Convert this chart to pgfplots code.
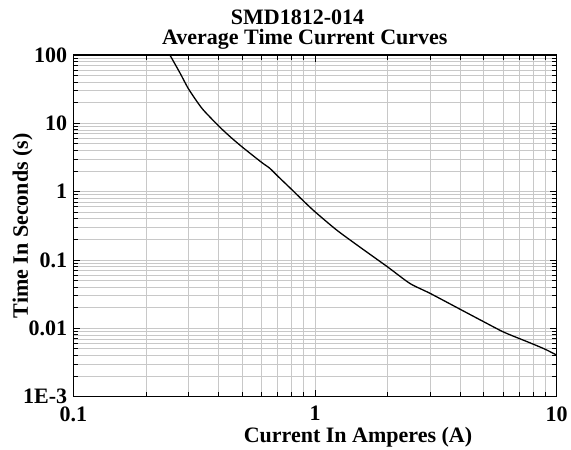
\documentclass[border=0pt]{standalone}
\usepackage{pgfplots}
\pgfplotsset{compat=1.18}
\usepackage{fontspec}
\setmainfont{Liberation Serif}
\definecolor{gridgray}{RGB}{200,200,200}
\begin{document}
\begin{tikzpicture}
\begin{axis}[
  at={(0,0)}, anchor=south west,
  scale only axis,
  width=483.4bp, height=341.7bp,
  xmode=log, ymode=log,
  xmin=0.1, xmax=10, ymin=0.001, ymax=100,
  xtick={0.1,1,10}, xticklabels={0.1,1,10},
  ytick={0.001,0.01,0.1,1,10,100},
  yticklabels={1E-3,0.01,0.1,1,10,100},
  minor xtick={0.2,0.3,0.4,0.5,0.6,0.7,0.8,0.9,2,3,4,5,6,7,8,9},
  minor ytick={0.002,0.003,0.004,0.005,0.006,0.007,0.008,0.009,
               0.02,0.03,0.04,0.05,0.06,0.07,0.08,0.09,
               0.2,0.3,0.4,0.5,0.6,0.7,0.8,0.9,
               2,3,4,5,6,7,8,9,20,30,40,50,60,70,80,90},
  grid=both,
  major grid style={gridgray, line width=0.9bp},
  minor grid style={gridgray, line width=0.9bp},
  axis line style={black, line width=1.5bp},
  tick style={black, line width=1bp},
  major tick length=7bp, minor tick length=5bp,
  tick align=inside,
  xtick pos=both, ytick pos=both,
  /pgf/number format/assume math mode=true,
  tick label style={font=\fontsize{22bp}{26bp}\selectfont\bfseries, inner sep=0pt},
  xticklabel style={anchor=north, yshift=-9.5bp},
  yticklabel style={anchor=east, xshift=-6bp},
  xlabel={Current In Amperes (A)},
  ylabel={Time In Seconds (s)},
  label style={font=\fontsize{22bp}{26bp}\selectfont\bfseries, inner sep=0pt},
  xlabel style={at={(axis description cs:0.589,-0.1326)}, anchor=base},
  ylabel style={at={(axis description cs:-0.0937,0.5)}, anchor=base, rotate=0},
  clip mode=individual,
]
\addplot[black, line width=1.3bp, smooth, tension=0.4] coordinates {
(0.251,100)
(0.276,55)
(0.298,33)
(0.32,22.5)
(0.345,15.7)
(0.4,9.1)
(0.445,6.4)
(0.5,4.5)
(0.6,2.7)
(0.65,2.2)
(0.7,1.7)
(0.8,1.08)
(0.9,0.72)
(1.0,0.508)
(1.23,0.274)
(1.54,0.153)
(2.0,0.079)
(2.47,0.0454)
(3,0.0324)
(4,0.0189)
(5,0.01245)
(6,0.0089)
(7,0.0071)
(8,0.00587)
(9,0.00491)
(10,0.00406)
};
\node[font=\fontsize{22bp}{26bp}\selectfont\bfseries, anchor=base, inner sep=0pt]
  at (axis description cs:0.464,1.0878) {SMD1812-014};
\node[font=\fontsize{22bp}{26bp}\selectfont\bfseries, anchor=base, inner sep=0pt]
  at (axis description cs:0.479,1.0293) {Average Time Current Curves};
\end{axis}
\pgfresetboundingbox
\path[use as bounding box] (-73.3bp,-53.3bp) rectangle (497.7bp,396.7bp);
\end{tikzpicture}
\end{document}
